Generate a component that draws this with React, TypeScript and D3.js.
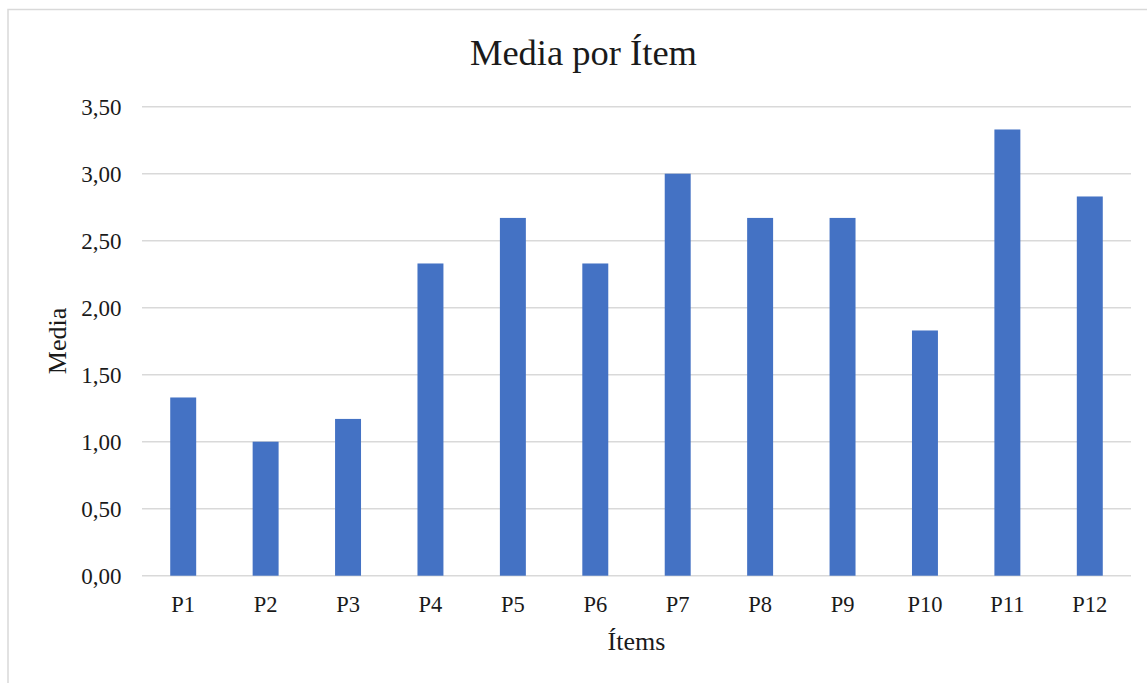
import React from "react";
import * as d3 from "d3";

const categories = ["P1", "P2", "P3", "P4", "P5", "P6", "P7", "P8", "P9", "P10", "P11", "P12"];
const values = [1.33, 1.0, 1.17, 2.33, 2.67, 2.33, 3.0, 2.67, 2.67, 1.83, 3.33, 2.83];
const yTicks = [0, 0.5, 1, 1.5, 2, 2.5, 3, 3.5];
const title = "Media por Ítem";
const xTitle = "Ítems";
const yTitle = "Media";

export default function App() {
  const W = 1147, H = 683;
  const left = 142, right = 1131, top = 106.7, bottom = 575.7;
  const x = d3.scaleBand<string>().domain(categories).range([left, right]).paddingInner(0.685).paddingOuter(0.3425);
  const y = d3.scaleLinear().domain([0, 3.5]).range([bottom, top]);
  const fmt = (v: number) => v.toFixed(2).replace(".", ",");
  const font = "'Liberation Serif', 'Times New Roman', serif";
  return (
    <svg width={W} height={H} style={{ position: "absolute", left: 0, top: 0, background: "#fff" }} fontFamily={font}>
      <rect x={8} y={9.5} width={1160} height={700} fill="#fff" stroke="#d9d9d9" strokeWidth={1.5} />
      <text x={583.5} y={65} textAnchor="middle" fontSize={36.5} fill="#1a1a1a">{title}</text>
      {yTicks.map((t) => (
        <g key={t}>
          <line x1={left} x2={right} y1={y(t)} y2={y(t)} stroke="#d9d9d9" strokeWidth={1.5} />
          <text x={121.5} y={y(t) + 8} textAnchor="end" fontSize={23} fill="#1a1a1a">{fmt(t)}</text>
        </g>
      ))}
      {categories.map((c, i) => (
        <rect key={c} x={x(c)} y={y(values[i])} width={x.bandwidth()} height={y(0) - y(values[i])} fill="#4472C4" />
      ))}
      {categories.map((c) => (
        <text key={c} x={(x(c) as number) + x.bandwidth() / 2} y={612} textAnchor="middle" fontSize={22.5} fill="#1a1a1a">{c}</text>
      ))}
      <text x={(left + right) / 2} y={650} textAnchor="middle" fontSize={26} fill="#1a1a1a">{xTitle}</text>
      <text transform={`translate(66,341) rotate(-90)`} textAnchor="middle" fontSize={26} fill="#1a1a1a">{yTitle}</text>
    </svg>
  );
}
